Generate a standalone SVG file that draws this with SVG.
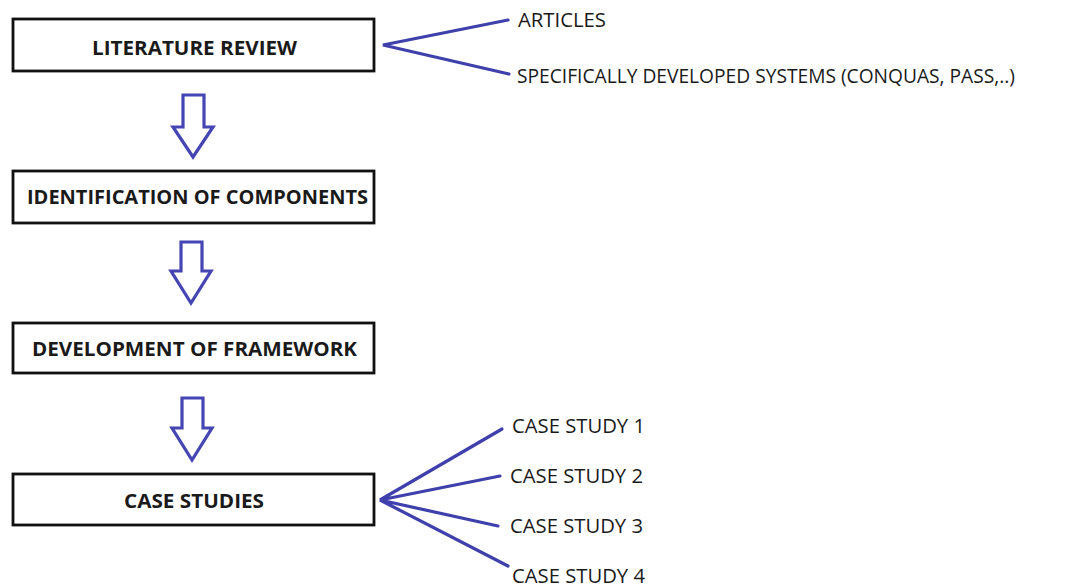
<svg xmlns="http://www.w3.org/2000/svg" width="1066" height="587" viewBox="0 0 1066 587">
  <style>
    .box { fill: #ffffff; stroke: #111111; stroke-width: 2.8; }
    .title { font-family: "Open Sans", "Liberation Sans", sans-serif; font-weight: bold; font-size: 19.5px; fill: #1a1a1a; }
    .item { font-family: "Open Sans", "Liberation Sans", sans-serif; font-size: 20.5px; fill: #1a1a1a; }
    .fan { stroke: #4040ad; stroke-width: 3.2; fill: none; stroke-linecap: round; }
    .step { fill: #ffffff; stroke: #4545b3; stroke-width: 3.2; stroke-linejoin: miter; }
  </style>
  <rect width="1066" height="587" fill="#ffffff"/>

  <g id="literature-review">
    <rect class="box" x="13" y="19" width="361" height="52"/>
    <text class="title" x="92" y="55" textLength="205" lengthAdjust="spacingAndGlyphs">LITERATURE REVIEW</text>
  </g>
  <g id="identification">
    <rect class="box" x="13" y="171" width="361" height="52"/>
    <text class="title" x="27" y="204" textLength="341" lengthAdjust="spacingAndGlyphs">IDENTIFICATION OF COMPONENTS</text>
  </g>
  <g id="framework">
    <rect class="box" x="13" y="323" width="361" height="50"/>
    <text class="title" x="32" y="356" textLength="325" lengthAdjust="spacingAndGlyphs">DEVELOPMENT OF FRAMEWORK</text>
  </g>
  <g id="case-studies">
    <rect class="box" x="13" y="474" width="361" height="51"/>
    <text class="title" x="124" y="508" textLength="140" lengthAdjust="spacingAndGlyphs">CASE STUDIES</text>
  </g>

  <g id="articles"><text class="item" x="518" y="27" textLength="88" lengthAdjust="spacingAndGlyphs">ARTICLES</text></g>
  <g id="systems"><text class="item" x="517" y="83" textLength="498" lengthAdjust="spacingAndGlyphs">SPECIFICALLY DEVELOPED SYSTEMS (CONQUAS, PASS,..)</text></g>
  <g id="case-study-1"><text class="item" x="512" y="433" textLength="133" lengthAdjust="spacingAndGlyphs">CASE STUDY 1</text></g>
  <g id="case-study-2"><text class="item" x="510" y="483" textLength="133" lengthAdjust="spacingAndGlyphs">CASE STUDY 2</text></g>
  <g id="case-study-3"><text class="item" x="510" y="533" textLength="133" lengthAdjust="spacingAndGlyphs">CASE STUDY 3</text></g>
  <g id="case-study-4"><text class="item" x="512" y="583" textLength="133" lengthAdjust="spacingAndGlyphs">CASE STUDY 4</text></g>

  <g id="connectors">
    <!-- block arrows between steps -->
    <path class="step" d="M183 95 H204 V127 H213 L193 157 L173 127 H183 Z"/>
    <path class="step" d="M181 242 H202 V271 H211 L191 303 L171 271 H181 Z"/>
    <path class="step" d="M182 398 H203 V428 H212 L192 460 L172 428 H182 Z"/>
    <!-- fan-out lines -->
    <path class="fan" d="M508 20 L383 45 L509 74"/>
    <path class="fan" d="M502 429 L380 500 L500 476"/>
    <path class="fan" d="M498 526 L380 500 L508 566"/>
  </g>
</svg>
